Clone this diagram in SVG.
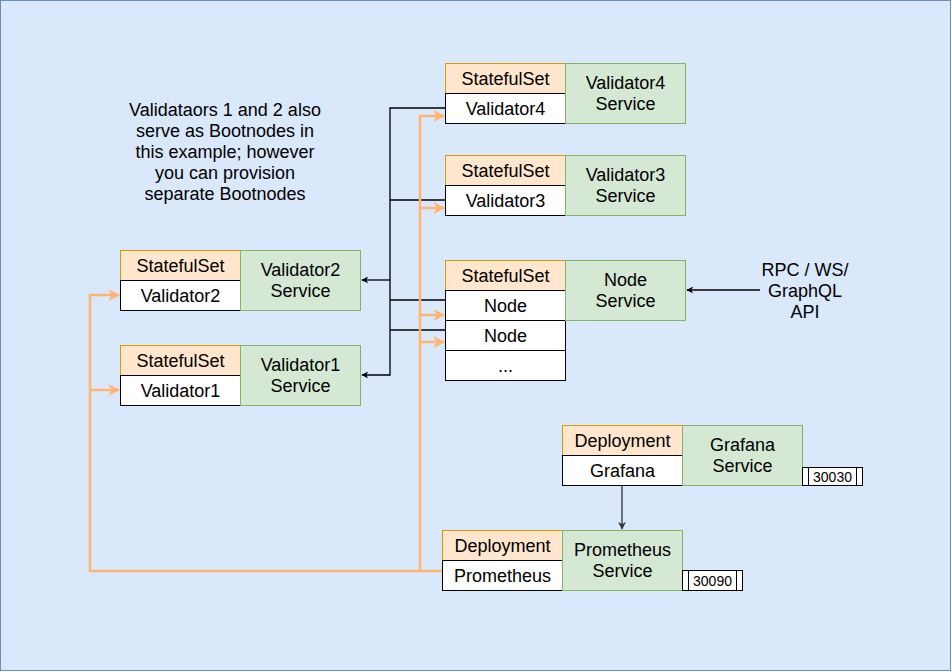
<svg xmlns="http://www.w3.org/2000/svg" width="952" height="672" viewBox="0 0 952 672">
<style>
text{font-family:"Liberation Sans",Arial,sans-serif;font-size:18px;fill:#000;text-anchor:middle}
.hdr{fill:#ffe6cc;stroke:#d79b00}
.row{fill:#fff;stroke:#000}
.svc{fill:#d5e8d4;stroke:#82b366}
.blk{fill:none;stroke:#000;stroke-width:1.3}
.org{fill:none;stroke:#ffb570;stroke-width:2.5}
.port{fill:#fff;stroke:#000}
.pt{font-size:14px}
</style>
<defs>
<marker id="ab" viewBox="0 0 10 10" refX="9" refY="5" markerWidth="7" markerHeight="7" orient="auto" markerUnits="userSpaceOnUse"><path d="M0,0 L10,5 L0,10 L3,5 z" fill="#000"/></marker>
<marker id="ag" viewBox="0 0 10 10" refX="9" refY="5" markerWidth="8" markerHeight="8" orient="auto" markerUnits="userSpaceOnUse"><path d="M0,0 L10,5 L0,10 L3,5 z" fill="#333"/></marker>
<marker id="ao" viewBox="0 0 10 10" refX="9" refY="5" markerWidth="12" markerHeight="12" orient="auto" markerUnits="userSpaceOnUse"><path d="M0,0 L10,5 L0,10 L3,5 z" fill="#ffb570"/></marker>
</defs>
<rect x="0.5" y="0.5" width="950" height="670" fill="#dae8fc" stroke="#6c8ebf"/>

<g id="note">
<text x="225" y="116">Validataors 1 and 2 also</text>
<text x="225" y="137">serve as Bootnodes in</text>
<text x="225" y="158">this example; however</text>
<text x="225" y="179">you can provision</text>
<text x="225" y="200">separate Bootnodes</text>
</g>

<g id="connectors">
<polyline class="blk" points="445,108 390,108 390,375 362,375" marker-end="url(#ab)"/>
<polyline class="blk" points="445,200 390,200"/>
<polyline class="blk" points="445,300 390,300"/>
<polyline class="blk" points="445,330 390,330"/>
<polyline class="blk" points="390,280 362,280" marker-end="url(#ab)"/>
<line class="blk" x1="760" y1="290" x2="687" y2="290" marker-end="url(#ab)"/>
<line x1="622" y1="485" x2="622" y2="529" stroke="#333" stroke-width="1.3" marker-end="url(#ag)"/>
<polyline class="org" points="442,571 90,571 90,295 119,295" marker-end="url(#ao)"/>
<polyline class="org" points="90,390 119,390" marker-end="url(#ao)"/>
<polyline class="org" points="420,571 420,116 444,116" marker-end="url(#ao)"/>
<polyline class="org" points="420,208 444,208" marker-end="url(#ao)"/>
<polyline class="org" points="420,315 444,315" marker-end="url(#ao)"/>
<polyline class="org" points="420,342 444,342" marker-end="url(#ao)"/>
</g>

<g id="validator4">
<rect class="hdr" x="445.5" y="63.5" width="120" height="30"/><text x="505.5" y="85">StatefulSet</text>
<rect class="row" x="445.5" y="93.5" width="120" height="30"/><text x="505.5" y="115">Validator4</text>
<rect class="svc" x="565.5" y="63.5" width="120" height="60"/><text x="625.5" y="89">Validator4</text><text x="625.5" y="110">Service</text>
</g>
<g id="validator3">
<rect class="hdr" x="445.5" y="155.5" width="120" height="30"/><text x="505.5" y="177">StatefulSet</text>
<rect class="row" x="445.5" y="185.5" width="120" height="30"/><text x="505.5" y="207">Validator3</text>
<rect class="svc" x="565.5" y="155.5" width="120" height="60"/><text x="625.5" y="181">Validator3</text><text x="625.5" y="202">Service</text>
</g>
<g id="node">
<rect class="hdr" x="445.5" y="260.5" width="120" height="30"/><text x="505.5" y="282">StatefulSet</text>
<rect class="row" x="445.5" y="290.5" width="120" height="30"/><text x="505.5" y="312">Node</text>
<rect class="row" x="445.5" y="320.5" width="120" height="30"/><text x="505.5" y="342">Node</text>
<rect class="row" x="445.5" y="350.5" width="120" height="30"/><text x="505.5" y="372">...</text>
<rect class="svc" x="565.5" y="260.5" width="120" height="60"/><text x="625.5" y="286">Node</text><text x="625.5" y="307">Service</text>
</g>
<g id="validator2">
<rect class="hdr" x="120.5" y="250.5" width="120" height="30"/><text x="180.5" y="272">StatefulSet</text>
<rect class="row" x="120.5" y="280.5" width="120" height="30"/><text x="180.5" y="302">Validator2</text>
<rect class="svc" x="240.5" y="250.5" width="120" height="60"/><text x="300.5" y="276">Validator2</text><text x="300.5" y="297">Service</text>
</g>
<g id="validator1">
<rect class="hdr" x="120.5" y="345.5" width="120" height="30"/><text x="180.5" y="367">StatefulSet</text>
<rect class="row" x="120.5" y="375.5" width="120" height="30"/><text x="180.5" y="397">Validator1</text>
<rect class="svc" x="240.5" y="345.5" width="120" height="60"/><text x="300.5" y="371">Validator1</text><text x="300.5" y="392">Service</text>
</g>
<g id="rpc">
<text x="805" y="276">RPC / WS/</text><text x="805" y="297">GraphQL</text><text x="805" y="318">API</text>
</g>
<g id="grafana">
<rect class="hdr" x="562.5" y="425.5" width="120" height="30"/><text x="622.5" y="447">Deployment</text>
<rect class="row" x="562.5" y="455.5" width="120" height="30"/><text x="622.5" y="477">Grafana</text>
<rect class="svc" x="682.5" y="425.5" width="120" height="60"/><text x="742.5" y="451">Grafana</text><text x="742.5" y="472">Service</text>
<rect class="port" x="802.5" y="467.5" width="60" height="18"/><line x1="808.5" y1="467.5" x2="808.5" y2="485.5" stroke="#000"/><line x1="856.5" y1="467.5" x2="856.5" y2="485.5" stroke="#000"/><text class="pt" x="832.5" y="482">30030</text>
</g>
<g id="prometheus">
<rect class="hdr" x="442.5" y="530.5" width="120" height="30"/><text x="502.5" y="552">Deployment</text>
<rect class="row" x="442.5" y="560.5" width="120" height="30"/><text x="502.5" y="582">Prometheus</text>
<rect class="svc" x="562.5" y="530.5" width="120" height="60"/><text x="622.5" y="556">Prometheus</text><text x="622.5" y="577">Service</text>
<rect class="port" x="682.5" y="570.5" width="60" height="20"/><line x1="688.5" y1="570.5" x2="688.5" y2="590.5" stroke="#000"/><line x1="736.5" y1="570.5" x2="736.5" y2="590.5" stroke="#000"/><text class="pt" x="712.5" y="586">30090</text>
</g>
</svg>
